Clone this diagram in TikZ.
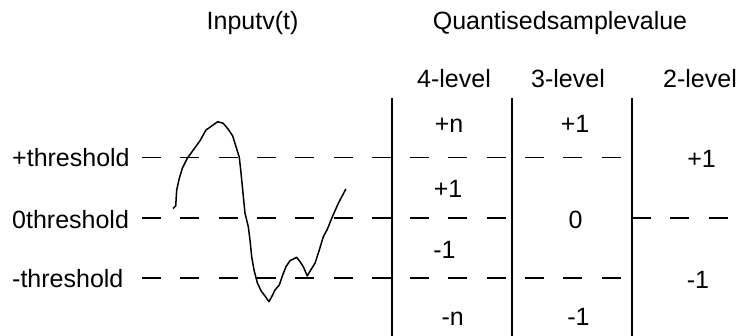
\documentclass[tikz,border=0pt]{standalone}
\usepackage{fontspec}
\setmainfont{Liberation Sans}
\begin{document}
\begin{tikzpicture}[x=1pt,y=-1pt,
  txt/.style={font=\fontsize{25}{30}\selectfont, inner sep=0pt, anchor=base},
  lbl/.style={txt, anchor=base west},
  colline/.style={line width=1.6pt},
  thr/.style={line width=1.5pt, dash pattern=on 19pt off 19.3pt},
  wave/.style={line width=1.5pt, line join=round, line cap=round}]
\useasboundingbox (0,0) rectangle (746,336);
% titles
\node[txt] (inp) at (252.5,30) {Inputv(t)};
\node[txt] (qsv) at (560,30) {Quantisedsamplevalue};
\node[txt] (l4) at (454,88) {4-level};
\node[txt] (l3) at (568,88) {3-level};
\node[txt] (l2) at (700,88) {2-level};
% threshold labels
\node[lbl] (tp) at (12,166.7) {+threshold};
\node[lbl] (t0) at (12,228.3) {0threshold};
\node[lbl] (tm) at (12,287.7) {-threshold};
% coordinates for lines
\coordinate (pL) at (142,157.5);
\coordinate (pR) at (632,157.5);
\coordinate (zL) at (142,218);
\coordinate (zM) at (512,218);
\coordinate (zR1) at (632,218);
\coordinate (zR2) at (728,218);
\coordinate (mL) at (142,278);
\coordinate (mR) at (632,278);
\coordinate (v1t) at (392,98); \coordinate (v1b) at (392,336);
\coordinate (v2t) at (512,98); \coordinate (v2b) at (512,336);
\coordinate (v3t) at (632,98); \coordinate (v3b) at (632,336);
% dashed threshold lines
\draw[thr] (pL) -- (pR);
\draw[thr] (zL) -- (zM);
\draw[thr] (zR1) -- (zR2);
\draw[thr] (mL) -- (mR);
% column lines
\draw[colline] (v1t) -- (v1b);
\draw[colline] (v2t) -- (v2b);
\draw[colline] (v3t) -- (v3b);
% values
\node[txt] (a1) at (449,132.7) {+n};
\node[txt] (a2) at (448,198) {+1};
\node[txt] (a3) at (444.5,259) {-1};
\node[txt] (a4) at (452.7,325) {-n};
\node[txt] (b1) at (575,132.7) {+1};
\node[txt] (b2) at (575.5,229) {0};
\node[txt] (b3) at (578.5,325) {-1};
\node[txt] (c1) at (701.5,168) {+1};
\node[txt] (c2) at (698,289) {-1};
% input waveform
\draw[wave] plot coordinates {
(173.3,208.3) (175.7,206) (176.7,190) (179.3,178.3) (182.3,168.3) (187.3,158.3)
(193.3,150) (200,140.7) (206,130) (211.7,126) (217.7,121.7) (223.3,123.3)
(228.3,129.3) (232.7,136) (236,146.7) (239.3,157.3) (240.7,170) (242.7,190)
(245,213.3) (248.3,226.7) (250,240) (251.7,256.7) (254,270) (257.3,282.7)
(261,290.7) (265,296) (269,301.7) (271.7,296.7) (275,290) (279.3,285)
(282.7,275) (286,266.7) (290,260.7) (296.7,257.3) (300,261.7) (303.3,266.7)
(307.3,276) (310.7,270) (315,263.3) (319.3,250) (323.3,236.7) (327.3,229.3)
(332.7,216) (338.3,203.3) (345.7,189.3)};
\end{tikzpicture}
\end{document}
